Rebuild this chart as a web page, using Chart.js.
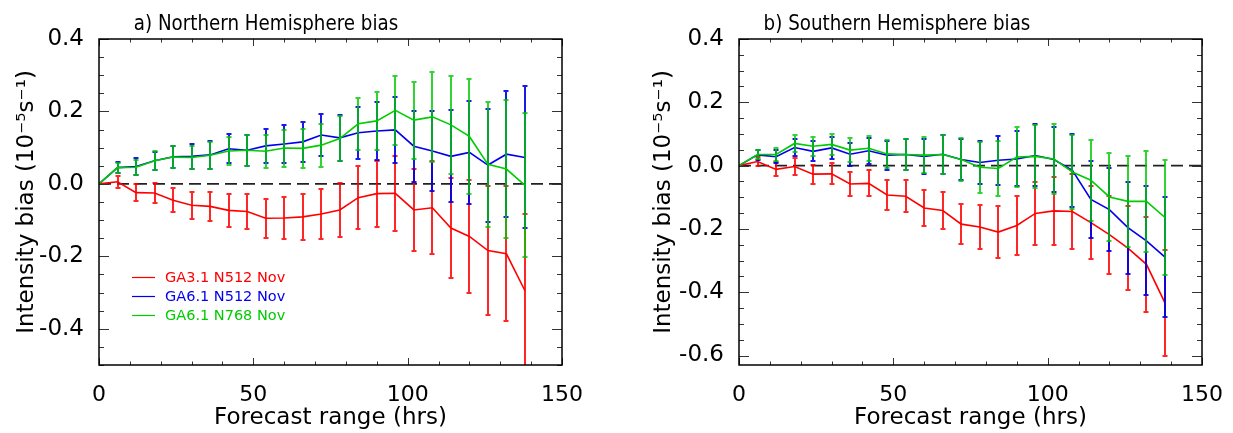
<!DOCTYPE html>
<html>
<head>
<meta charset="utf-8">
<script src="https://cdn.jsdelivr.net/npm/chart.js@4.4.0/dist/chart.umd.min.js"></script>
<style>
  body { margin: 0; background: #fff; }
  .panel { position: absolute; top: 0; }
</style>
</head>
<body>
<div class="panel" style="left:0"><canvas id="nh" width="616" height="433"></canvas></div>
<div class="panel" style="left:616px"><canvas id="sh" width="617" height="433"></canvas></div>
<script>
// forecast lead times (hrs)
const hours = [0, 6, 12, 18, 24, 30, 36, 42, 48, 54, 60, 66, 72, 78, 84, 90, 96, 102, 108, 114, 120, 126, 132, 138];

const seriesNames = ["GA3.1 N512 Nov", "GA6.1 N512 Nov", "GA6.1 N768 Nov"];
const seriesColors = ["#ff0000", "#0000ee", "#00cc00"];
const barColors = ["rgba(255,0,0,0.85)", "rgba(0,0,230,0.9)", "rgba(0,200,0,0.8)"];

// a) Northern Hemisphere
const nhRed = [0, 0.006, -0.024, -0.025, -0.045, -0.059, -0.062, -0.073, -0.076, -0.095, -0.094, -0.091, -0.083, -0.072, -0.038, -0.027, -0.026, -0.072, -0.066, -0.122, -0.145, -0.184, -0.193, -0.295];
const nhRedErr = [0, 0.0165, 0.0225, 0.028, 0.033, 0.037, 0.040, 0.045, 0.048, 0.054, 0.057, 0.063, 0.069, 0.074, 0.087, 0.091, 0.104, 0.114, 0.128, 0.139, 0.157, 0.177, 0.186, 0.211];
const nhBlue = [0, 0.045, 0.048, 0.064, 0.075, 0.076, 0.080, 0.097, 0.093, 0.105, 0.110, 0.116, 0.135, 0.127, 0.141, 0.146, 0.149, 0.104, 0.091, 0.076, 0.087, 0.052, 0.082, 0.073];
const nhBlueErr = [0, 0.016, 0.023, 0.025, 0.030, 0.034, 0.038, 0.040, 0.043, 0.047, 0.053, 0.055, 0.057, 0.063, 0.072, 0.081, 0.092, 0.098, 0.111, 0.127, 0.143, 0.156, 0.174, 0.196];
const nhGreen = [0, 0.045, 0.046, 0.064, 0.074, 0.073, 0.079, 0.091, 0.093, 0.090, 0.099, 0.098, 0.107, 0.125, 0.166, 0.174, 0.203, 0.176, 0.185, 0.163, 0.131, 0.054, 0.041, -0.004];
const nhGreenErr = [0, 0.014, 0.021, 0.026, 0.030, 0.032, 0.038, 0.039, 0.043, 0.045, 0.051, 0.054, 0.059, 0.063, 0.072, 0.080, 0.095, 0.106, 0.124, 0.136, 0.158, 0.173, 0.190, 0.199];

// b) Southern Hemisphere
const shRed = [0, 0.013, -0.012, -0.003, -0.027, -0.026, -0.058, -0.056, -0.093, -0.097, -0.134, -0.142, -0.185, -0.194, -0.210, -0.189, -0.151, -0.143, -0.145, -0.180, -0.218, -0.261, -0.312, -0.434];
const shRedErr = [0, 0.014, 0.022, 0.027, 0.030, 0.033, 0.037, 0.041, 0.046, 0.050, 0.056, 0.058, 0.063, 0.070, 0.081, 0.092, 0.099, 0.108, 0.117, 0.116, 0.123, 0.133, 0.150, 0.167];
const shBlue = [0, 0.034, 0.028, 0.057, 0.045, 0.056, 0.036, 0.047, 0.033, 0.035, 0.029, 0.036, 0.019, 0.010, 0.017, 0.021, 0.032, 0.019, -0.015, -0.107, -0.139, -0.196, -0.238, -0.289];
const shBlueErr = [0, 0.0165, 0.021, 0.027, 0.032, 0.035, 0.036, 0.041, 0.046, 0.050, 0.054, 0.061, 0.065, 0.069, 0.077, 0.087, 0.098, 0.103, 0.115, 0.121, 0.131, 0.145, 0.172, 0.189];
const shGreen = [0, 0.035, 0.035, 0.070, 0.061, 0.067, 0.049, 0.055, 0.037, 0.035, 0.033, 0.035, 0.019, -0.005, -0.009, 0.027, 0.029, 0.021, -0.020, -0.046, -0.099, -0.113, -0.113, -0.164];
const shGreenErr = [0, 0.014, 0.021, 0.027, 0.030, 0.034, 0.038, 0.040, 0.044, 0.049, 0.056, 0.061, 0.068, 0.080, 0.087, 0.094, 0.100, 0.110, 0.117, 0.128, 0.139, 0.144, 0.160, 0.181];

// axes
const xTicks = [0, 50, 100, 150];
const xMinorTicks = [0, 10, 20, 30, 40, 50, 60, 70, 80, 90, 100, 110, 120, 130, 140, 150];
const nhYTicks = [-0.4, -0.2, 0, 0.2, 0.4];
const shYTicks = [-0.6, -0.4, -0.2, 0, 0.2, 0.4];

const FONT = "DejaVu Sans";
const yTitle = "Intensity bias (10\u207B\u2075s\u207B\u00B9)";

// ------------------------------------------------------------------
const errorBars = {
  id: "errorBars",
  afterDatasetDraw(chart, args) {
    const ds = chart.data.datasets[args.index];
    if (!ds.errors) return;
    const { ctx, chartArea: a, scales: { x, y } } = chart;
    ctx.save();
    ctx.beginPath();
    ctx.rect(a.left, a.top, a.width, a.height);
    ctx.clip();
    ctx.strokeStyle = ds.barColor;
    ds.data.forEach((p, i) => {
      const e = ds.errors[i];
      if (!e) return;
      const px = Math.round(x.getPixelForValue(p.x));
      const top = Math.round(y.getPixelForValue(p.y + e));
      const bot = Math.round(y.getPixelForValue(p.y - e));
      ctx.lineWidth = 2;
      ctx.beginPath();
      ctx.moveTo(px, top);
      ctx.lineTo(px, bot);
      ctx.moveTo(px - 2.5, top);
      ctx.lineTo(px + 2.5, top);
      ctx.moveTo(px - 2.5, bot);
      ctx.lineTo(px + 2.5, bot);
      ctx.stroke();
    });
    ctx.restore();
  },
};

const isIn = (v, list) => list.some((t) => Math.abs(t - v) < 1e-6);

const frameTicks = {
  id: "frameTicks",
  afterDraw(chart, args, opts) {
    const { ctx, chartArea: a, scales: { x, y } } = chart;
    ctx.save();
    ctx.strokeStyle = "#333";
    ctx.lineWidth = 1;
    ctx.beginPath();
    xMinorTicks.forEach((v) => {
      const px = Math.round(x.getPixelForValue(v)) + 0.5;
      const len = isIn(v, xTicks) ? 7 : 3.5;
      ctx.moveTo(px, a.bottom);
      ctx.lineTo(px, a.bottom - len);
      ctx.moveTo(px, a.top);
      ctx.lineTo(px, a.top + len);
    });
    for (let k = Math.ceil(opts.yMin / 0.05 - 1e-6); k * 0.05 <= 0.4 + 1e-6; k++) {
      const v = k * 0.05;
      const py = Math.round(y.getPixelForValue(v)) + 0.5;
      const len = isIn(v, opts.yTicks) ? 10 : 5;
      ctx.moveTo(a.left, py);
      ctx.lineTo(a.left + len, py);
      ctx.moveTo(a.right, py);
      ctx.lineTo(a.right - len, py);
    }
    ctx.stroke();
    ctx.strokeStyle = "#000";
    ctx.lineWidth = 1.5;
    ctx.strokeRect(a.left, a.top, a.width, a.height);
    // panel title (slightly narrow lettering as in the original)
    ctx.fillStyle = "#000";
    ctx.font = "21px '" + FONT + "'";
    ctx.textAlign = "center";
    ctx.textBaseline = "alphabetic";
    ctx.save();
    ctx.translate(opts.titleX, 30);
    ctx.scale(0.87, 1);
    ctx.fillText(opts.title, 0, 0);
    ctx.restore();
    // legend
    if (opts.legend) {
      ctx.font = "14.5px '" + FONT + "'";
      ctx.textAlign = "left";
      ctx.textBaseline = "middle";
      chart.data.datasets.filter((d) => d.errors).forEach((d, i) => {
        const ly = 277 + i * 19;
        ctx.strokeStyle = d.borderColor;
        ctx.lineWidth = 1.2;
        ctx.beginPath();
        ctx.moveTo(132, ly + 0.5);
        ctx.lineTo(155, ly + 0.5);
        ctx.stroke();
        ctx.fillStyle = d.borderColor;
        ctx.fillText(d.label, 165, ly + 1);
      });
    }
    ctx.restore();
  },
};

function series(k, values, errors) {
  return {
    label: seriesNames[k],
    data: hours.map((h, i) => ({ x: h, y: values[i] })),
    errors: errors,
    barColor: barColors[k],
    borderColor: seriesColors[k],
    backgroundColor: seriesColors[k],
    borderWidth: 1.6,
    pointRadius: 0,
    tension: 0,
    order: 3 - k,
  };
}

function drawPanel(id, p) {
  new Chart(document.getElementById(id), {
    type: "line",
    data: {
      datasets: [
        series(0, p.red, p.redErr),
        series(1, p.blue, p.blueErr),
        series(2, p.green, p.greenErr),
        {
          data: [{ x: 0, y: 0 }, { x: 150, y: 0 }],
          borderColor: "#222",
          borderWidth: 1.6,
          borderDash: [12, 6],
          pointRadius: 0,
          order: 4,
        },
      ],
    },
    options: {
      responsive: false,
      animation: false,
      layout: { padding: { top: 39, right: p.padRight, bottom: 0, left: 0 } },
      scales: {
        x: {
          type: "linear",
          min: 0,
          max: 150,
          afterBuildTicks: (s) => { s.ticks = xTicks.map((v) => ({ value: v })); },
          afterFit: (s) => { s.height = 68; },
          grid: { display: false },
          border: { display: false },
          ticks: { color: "#000", padding: 9, maxRotation: 0, autoSkip: false, font: { family: FONT, size: 22 } },
          title: { display: true, text: "Forecast range (hrs)", color: "#000", font: { family: FONT, size: 23 }, padding: { top: 0, bottom: 1 } },
        },
        y: {
          type: "linear",
          min: p.yMin,
          max: 0.4,
          afterBuildTicks: (s) => { s.ticks = p.yTicks.map((v) => ({ value: v })); },
          afterFit: (s) => { s.width = p.axisWidth; },
          grid: { display: false },
          border: { display: false },
          ticks: {
            color: "#000",
            padding: 7,
            font: { family: FONT, size: 23 },
            callback: (v) => (Math.abs(v) < 1e-9 ? "0.0" : v.toFixed(1)),
          },
          title: { display: true, text: yTitle, color: "#000", font: { family: FONT, size: 23 }, padding: { top: p.titlePad, bottom: 0 } },
        },
      },
      plugins: {
        legend: { display: false },
        tooltip: { enabled: false },
        frameTicks: { title: p.title, titleX: p.titleX, yMin: p.yMin, yTicks: p.yTicks, legend: p.legend },
      },
    },
    plugins: [errorBars, frameTicks],
  });
}

drawPanel("nh", {
  title: "a) Northern Hemisphere bias", titleX: 266,
  red: nhRed, redErr: nhRedErr, blue: nhBlue, blueErr: nhBlueErr, green: nhGreen, greenErr: nhGreenErr,
  yMin: -0.5, yTicks: nhYTicks, axisWidth: 99, padRight: 54, titlePad: 13, legend: true,
});

drawPanel("sh", {
  title: "b) Southern Hemisphere bias", titleX: 281,
  red: shRed, redErr: shRedErr, blue: shBlue, blueErr: shBlueErr, green: shGreen, greenErr: shGreenErr,
  yMin: -0.63, yTicks: shYTicks, axisWidth: 123, padRight: 31, titlePad: 34, legend: false,
});
</script>
</body>
</html>
